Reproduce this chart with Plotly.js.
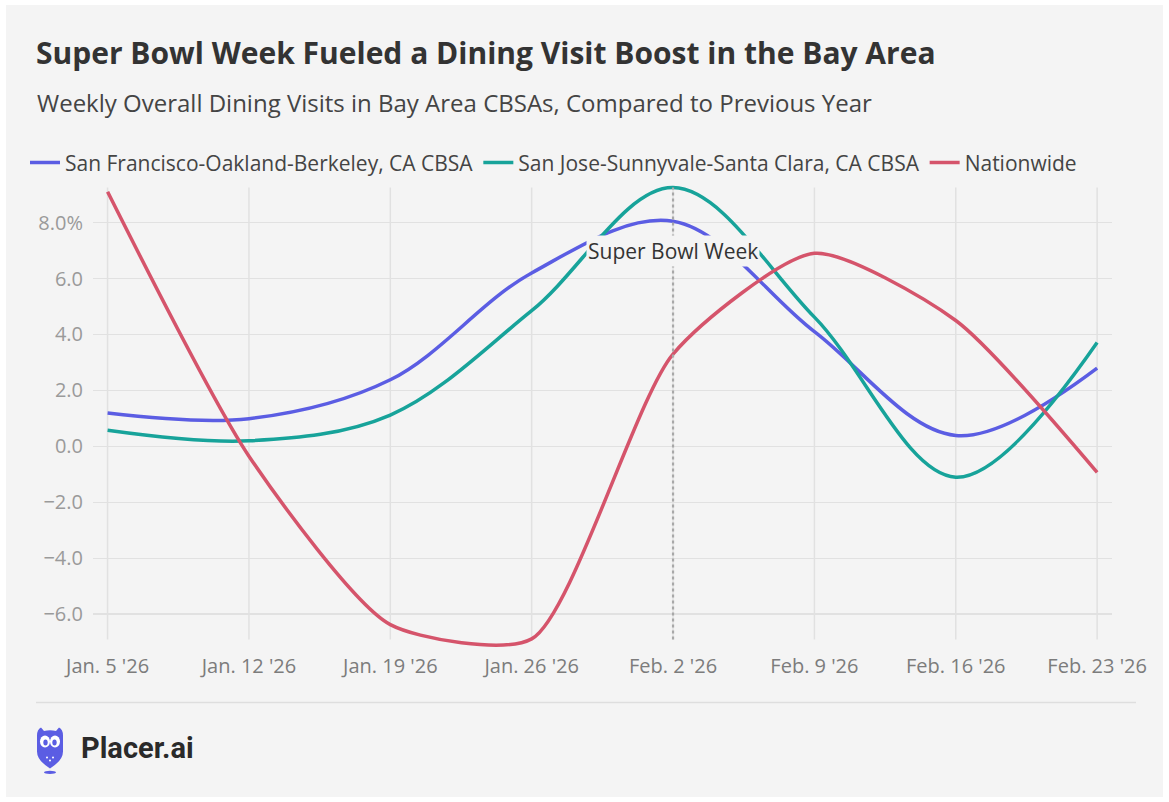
<!DOCTYPE html>
<html>
<head>
<meta charset="utf-8">
<script src="https://cdn.plot.ly/plotly-3.0.1.min.js"></script>
<style>
html,body{margin:0;padding:0;background:#ffffff;width:1169px;height:802px;overflow:hidden;}
#chart{position:absolute;left:6px;top:5px;width:1157px;height:792px;}
</style>
</head>
<body>
<div id="chart"></div>
<script>
// ---- data ----
const weeks = ["2026-01-05","2026-01-12","2026-01-19","2026-01-26","2026-02-02","2026-02-09","2026-02-16","2026-02-23"];
const weekLabels = ["Jan. 5 '26","Jan. 12 '26","Jan. 19 '26","Jan. 26 '26","Feb. 2 '26","Feb. 9 '26","Feb. 16 '26","Feb. 23 '26"];
const sanFrancisco = [1.19, 0.99, 2.38, 6.2, 8.05, 4.1, 0.39, 2.8];
const sanJose = [0.58, 0.2, 1.12, 4.85, 9.25, 4.62, -1.1, 3.71];
const nationwide = [9.1, -0.35, -6.37, -6.88, 3.3, 6.9, 4.5, -0.93];
const yTickVals = [-6, -4, -2, 0, 2, 4, 6, 8];
const yTickText = ["\u22126.0", "\u22124.0", "\u22122.0", "0.0", "2.0", "4.0", "6.0", "8.0%"];
const seriesNames = ["San Francisco-Oakland-Berkeley, CA CBSA", "San Jose-Sunnyvale-Santa Clara, CA CBSA", "Nationwide"];
const eventWeek = "2026-02-02";
const eventLabel = "Super Bowl Week";

// ---- layout geometry (div coords) ----
const W = 1157, H = 792;
const yLo = -7.35, yHi = 9.45;       // axis range (a little beyond the data so lines are not clipped)
const gridLo = -6.9, gridHi = 9.25;  // visible extent of the vertical grid
const M = {l: 87, r: 51, t: 177.1, b: 144.5};
const PW = W - M.l - M.r, PH = H - M.t - M.b;
const OX = 6, OY = 5; // div offset on page
function px(xAbs){ return (xAbs - OX - M.l) / PW; }
function py(yAbs){ return (H - M.b - (yAbs - OY)) / PH; }

const colors = ["#5b5de3", "#17a39a", "#d5546b"];
const smooth = [1, 1, 0.65];
const seriesVals = [sanFrancisco, sanJose, nationwide];

const traces = seriesVals.map((vals, i) => ({
  type: "scatter",
  mode: "lines",
  x: weeks,
  y: vals,
  name: seriesNames[i],
  line: {color: colors[i], width: 3.5, shape: "spline", smoothing: smooth[i]},
  hoverinfo: "x+y+name"
}));

const owlSvg = '<svg xmlns="http://www.w3.org/2000/svg" viewBox="0 0 28 48" width="28" height="48">' +
  '<path d="M1,9 Q1,3 5,1 L8,4.5 Q14,3 20,4.5 L23,1 Q27,3 27,9 L27,25 Q27,34 14,42 Q1,34 1,25 Z" fill="#5b5de3"/>' +
  '<ellipse cx="9" cy="15" rx="5" ry="6" fill="#ffffff"/>' +
  '<ellipse cx="19" cy="15" rx="5" ry="6" fill="#ffffff"/>' +
  '<ellipse cx="9.5" cy="16" rx="2.2" ry="3" fill="#5b5de3"/>' +
  '<ellipse cx="18.5" cy="16" rx="2.2" ry="3" fill="#5b5de3"/>' +
  '<circle cx="11" cy="31" r="1" fill="#ffffff"/><circle cx="17" cy="31" r="1" fill="#ffffff"/><circle cx="14" cy="34" r="1" fill="#ffffff"/>' +
  '<ellipse cx="14" cy="46" rx="6" ry="1.6" fill="#5b5de3"/>' +
  '</svg>';
const owlUri = "data:image/svg+xml;charset=utf-8," + encodeURIComponent(owlSvg);

const gridShapes = weeks.map(w => ({
  type: "line", xref: "x", yref: "y", x0: w, x1: w, y0: gridLo, y1: gridHi,
  line: {color: "#e1e1e1", width: 1.5}, layer: "below"
}));

const layout = {
  width: W, height: H,
  margin: M,
  paper_bgcolor: "#f4f4f4",
  plot_bgcolor: "#f4f4f4",
  font: {family: "Open Sans, Noto Sans, sans-serif", color: "#444"},
  title: {
    text: "<b>Super Bowl Week Fueled a Dining Visit Boost in the Bay Area</b>",
    font: {family: "Open Sans, sans-serif", size: 30, color: "#333333"},
    xref: "container", yref: "container",
    x: 30 / W, xanchor: "left",
    y: 1 - (53 - OY) / H, yanchor: "middle"
  },
  showlegend: true,
  legend: {
    orientation: "h",
    x: px(25), xanchor: "left",
    y: py(163), yanchor: "middle",
    font: {size: 21, color: "#444"},
    bgcolor: "rgba(0,0,0,0)",
    itemwidth: 30,
    itemgap: 36,
    traceorder: "normal"
  },
  xaxis: {
    type: "date",
    range: ["2026-01-04 06:40", "2026-02-23 17:40"],
    tickvals: weeks,
    ticktext: weekLabels,
    showgrid: false,
    zeroline: false,
    showline: false,
    ticks: "",
    tickfont: {size: 20, color: "#7c7c7c"},
    ticklabelstandoff: 0,
    fixedrange: true
  },
  yaxis: {
    range: [yLo, yHi],
    tickvals: yTickVals,
    ticktext: yTickText,
    showgrid: true,
    gridcolor: "#e1e1e1",
    gridwidth: 1.5,
    zeroline: false,
    showline: false,
    ticks: "",
    tickfont: {size: 20, color: "#9a9a9a"},
    ticklabelstandoff: 9,
    fixedrange: true
  },
  shapes: gridShapes.concat([
    {type: "line", xref: "x", yref: "y", x0: eventWeek, x1: eventWeek, y0: gridLo, y1: gridHi,
     line: {color: "#a8a8a8", width: 2.2, dash: "dot"}, layer: "above"},
    {type: "line", xref: "paper", yref: "paper", x0: px(36), x1: px(1136), y0: py(703), y1: py(703),
     line: {color: "#dedede", width: 1.5}, layer: "above"}
  ]),
  annotations: [
    {text: "Weekly Overall Dining Visits in Bay Area CBSAs, Compared to Previous Year",
     xref: "paper", yref: "paper", x: px(35), y: py(103), xanchor: "left", yanchor: "middle",
     showarrow: false, font: {size: 24, color: "#444444"}},
    {text: eventLabel, xref: "x", yref: "y", x: eventWeek, y: 7.0, xanchor: "center", yanchor: "middle",
     showarrow: false, font: {size: 21, color: "#333333"}, bgcolor: "#f4f4f4", borderpad: 1},
    {text: "<b>Placer.ai</b>", xref: "paper", yref: "paper", x: px(79), y: py(749), xanchor: "left", yanchor: "middle",
     showarrow: false, font: {family: "Roboto, sans-serif", size: 29, color: "#2a2a2a"}}
  ],
  images: [
    {source: owlUri, xref: "paper", yref: "paper", x: px(36), y: py(727),
     sizex: 28 / PW, sizey: 48 / PH, xanchor: "left", yanchor: "top", sizing: "stretch", layer: "above"}
  ]
};

Plotly.newPlot("chart", traces, layout, {displayModeBar: false, staticPlot: true});
</script>
</body>
</html>
